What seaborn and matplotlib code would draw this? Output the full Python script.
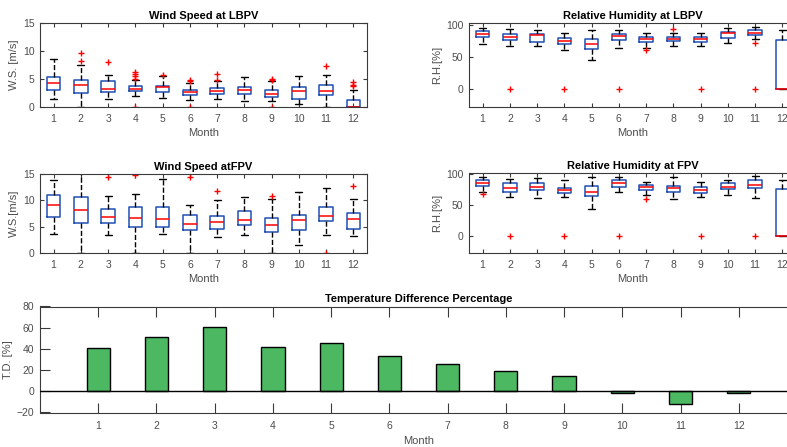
import numpy as np
import pandas as pd
import matplotlib
matplotlib.use("Agg")
import matplotlib.pyplot as plt
import seaborn as sns

months = list(range(1, 13))

# ---- Wind speed at LBPV (box statistics per month) ----
ws_lbpv_lo  = [1.4, 0.0, 1.4, 2.0, 1.7, 1.3, 1.4, 1.1, 1.1, 0.6, 0.0, 0.0]
ws_lbpv_q1  = [3.1, 2.5, 2.7, 2.8, 2.6, 2.1, 2.3, 2.4, 1.8, 1.5, 2.2, 0.0]
ws_lbpv_med = [4.3, 4.0, 3.3, 3.2, 3.5, 2.7, 2.8, 3.0, 2.3, 2.8, 2.8, 0.0]
ws_lbpv_q3  = [5.4, 4.8, 4.7, 3.7, 3.8, 3.0, 3.4, 3.5, 3.0, 3.6, 3.9, 1.2]
ws_lbpv_hi  = [8.6, 7.5, 5.8, 4.9, 5.5, 4.3, 4.6, 5.3, 4.6, 5.5, 5.7, 3.0]
ws_lbpv_out = [[], [9.7, 8.3], [8.0], [6.3, 6.0, 5.6, 5.0, 0.0], [5.8],
               [4.8, 4.6, 0.0], [6.0, 4.9], [], [5.1, 4.8, 0.0], [], [7.3],
               [4.5, 4.0, 3.7]]

# ---- Relative humidity at LBPV ----
rh_lbpv_lo  = [71, 67, 68, 61, 46, 65, 64, 67, 67, 72, 78, 0]
rh_lbpv_q1  = [82, 76.5, 73, 71, 62, 76.5, 74, 75.5, 74, 80, 85, 0]
rh_lbpv_med = [86.5, 82, 84, 75, 71, 83, 78.6, 78.6, 78, 88, 88.5, 0]
rh_lbpv_q3  = [91, 86, 87, 80, 79, 87, 81, 82, 82, 89.6, 92, 77]
rh_lbpv_hi  = [96, 94, 93, 88, 92, 92, 88, 88, 88, 95, 97.4, 92]
rh_lbpv_out = [[], [0], [], [0], [], [0], [61], [94], [0], [], [72, 0], []]

# ---- Wind speed at FPV ----
ws_fpv_lo  = [3.7, 0.0, 3.5, 0.0, 3.7, 0.0, 3.0, 3.5, 0.0, 1.5, 3.5, 3.2]
ws_fpv_q1  = [6.9, 5.7, 5.7, 5.0, 4.9, 4.3, 4.5, 5.3, 4.0, 4.3, 6.0, 4.6]
ws_fpv_med = [9.2, 8.1, 6.9, 6.6, 6.5, 5.5, 5.8, 6.3, 5.4, 6.3, 7.0, 6.5]
ws_fpv_q3  = [11.1, 10.7, 8.3, 8.8, 8.8, 7.3, 7.1, 7.9, 6.7, 7.2, 8.7, 7.6]
ws_fpv_hi  = [13.9, 15.5, 10.8, 11.2, 14.1, 9.1, 10.0, 10.7, 10.3, 11.5, 12.4, 10.3]
ws_fpv_out = [[], [], [14.5], [14.9], [], [14.4], [11.8], [], [10.9], [],
              [0.0], [12.7]]

# ---- Relative humidity at FPV ----
rh_fpv_lo  = [72, 62.6, 61.5, 63.6, 44.4, 70.6, 66, 59.4, 62.6, 65.8, 61.5, 0]
rh_fpv_q1  = [81, 72, 74, 70, 65, 79.7, 75, 71.6, 69.5, 76.5, 77.5, 0]
rh_fpv_med = [86.6, 78, 80, 73.8, 71, 85.6, 79.7, 77.5, 74.3, 80, 83.4, 0]
rh_fpv_q3  = [90, 85.6, 86.6, 78.6, 81.8, 90, 83.4, 81.8, 80, 86, 90, 76]
rh_fpv_hi  = [96, 92.5, 94, 90, 96, 95, 87, 95.7, 87, 91.4, 97, 91]
rh_fpv_out = [[68], [0], [], [0], [], [0], [60.4], [], [0], [], [0], []]

# ---- Temperature difference percentage ----
td_values = [40.5, 51.5, 60.4, 42.0, 45.8, 33.5, 25.3, 19.0, 14.9, -1.5, -11.7, -1.2]

W, H = 787, 447
sns.set_style("white")
plt.rcParams['font.family'] = ['Liberation Sans', 'DejaVu Sans']
fig = plt.figure(figsize=(W / 100, H / 100), dpi=100)

TICK_C = '#4d4d4d'
SPINE_C = '#3a3a3a'
BOX_C = '#1f4fb4'


def px_axes(left, top, right, bottom):
    return fig.add_axes([left / W, 1 - bottom / H, (right - left) / W, (bottom - top) / H])


def style_axes(ax, ticklen):
    for s in ax.spines.values():
        s.set_color(SPINE_C)
        s.set_linewidth(0.8)
    ax.tick_params(direction='in', length=ticklen, width=0.8, colors=SPINE_C,
                   labelcolor=TICK_C, labelsize=7.5, top=True, right=True,
                   bottom=True, left=True)
    ax.tick_params(axis='x', pad=5)
    ax.tick_params(axis='y', pad=4)


def draw_box(ax, lo, q1, med, q3, hi, out, title, ylabel, ylim, yticks):
    stats = []
    for i in range(len(months)):
        stats.append(dict(whislo=lo[i], q1=q1[i], med=med[i], q3=q3[i],
                          whishi=hi[i], fliers=out[i], label=str(months[i])))
    ax.bxp(stats, positions=months, widths=0.5, showfliers=True,
           boxprops=dict(color=BOX_C, linewidth=1.1),
           medianprops=dict(color='red', linewidth=1.1),
           whiskerprops=dict(color='black', linestyle='--', linewidth=1.0),
           capprops=dict(color='black', linewidth=1.0),
           flierprops=dict(marker='+', markeredgecolor='red', markersize=4,
                           markeredgewidth=1.0, linestyle='none'))
    ax.set_xlim(0.5, 12.5)
    ax.set_ylim(*ylim)
    ax.set_yticks(yticks)
    ax.set_xticks(months)
    ax.set_xticklabels([str(m) for m in months])
    style_axes(ax, 3)
    ax.set_title(title, fontsize=8, fontweight='bold', color='black', pad=3)
    ax.set_xlabel('Month', fontsize=8, color=TICK_C, labelpad=3)
    ax.set_ylabel(ylabel, fontsize=8, color=TICK_C, labelpad=3)


ax1 = px_axes(40, 23.3, 367, 107)
draw_box(ax1, ws_lbpv_lo, ws_lbpv_q1, ws_lbpv_med, ws_lbpv_q3, ws_lbpv_hi, ws_lbpv_out,
         'Wind Speed at LBPV', 'W.S. [m/s]', (0, 15), [0, 5, 10, 15])

ax2 = px_axes(469, 23.3, 796, 107)
draw_box(ax2, rh_lbpv_lo, rh_lbpv_q1, rh_lbpv_med, rh_lbpv_q3, rh_lbpv_hi, rh_lbpv_out,
         'Relative Humidity at LBPV', 'R.H.[%]', (-28, 103), [0, 50, 100])

ax3 = px_axes(40, 174, 367, 253)
draw_box(ax3, ws_fpv_lo, ws_fpv_q1, ws_fpv_med, ws_fpv_q3, ws_fpv_hi, ws_fpv_out,
         'Wind Speed atFPV', 'W.S.[m/s]', (0, 15), [0, 5, 10, 15])

ax4 = px_axes(469, 173, 796, 253)
draw_box(ax4, rh_fpv_lo, rh_fpv_q1, rh_fpv_med, rh_fpv_q3, rh_fpv_hi, rh_fpv_out,
         'Relative Humidity at FPV', 'R.H.[%]', (-27, 102), [0, 50, 100])

# ---- Bar chart ----
ax5 = px_axes(40, 306.5, 797, 412.5)
df = pd.DataFrame({'Month': [str(m) for m in months], 'TD': td_values})
sns.barplot(data=df, x='Month', y='TD', ax=ax5, color='#4db862', saturation=1,
            width=0.4, edgecolor='black', linewidth=1.0, zorder=2)
ax5.axhline(0, color='black', linewidth=1.0, zorder=3)
ax5.set_xlim(-1, 12)
ax5.set_ylim(-20, 80)
ax5.set_yticks([-20, 0, 20, 40, 60, 80])
style_axes(ax5, 7)
ax5.tick_params(axis='x', pad=6)
ax5.set_title('Temperature Difference Percentage', fontsize=8, fontweight='bold',
              color='black', pad=3)
ax5.set_xlabel('Month', fontsize=8, color=TICK_C, labelpad=4)
ax5.set_ylabel('T.D. [%]', fontsize=8, color=TICK_C, labelpad=3)

fig.savefig('out.png', dpi=100)
